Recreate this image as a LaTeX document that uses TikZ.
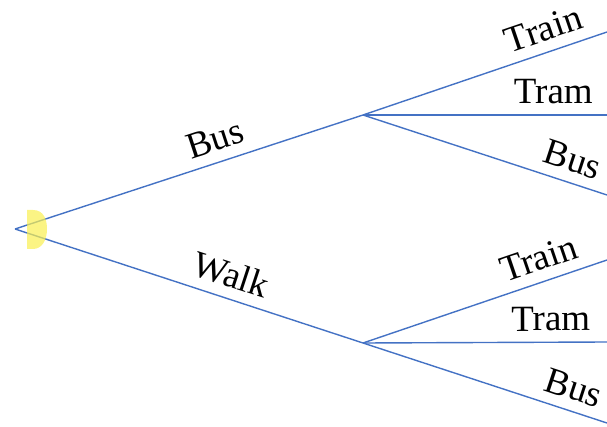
\documentclass[tikz,border=0pt]{standalone}
\usepackage{fontspec}
\setmainfont{Liberation Serif}
\definecolor{branch}{RGB}{68,114,196}
\definecolor{hilite}{RGB}{250,240,80}
\tikzset{
  edge/.style={draw=branch, line width=1.4pt},
  lab/.style={sloped, anchor=south, inner xsep=0pt, inner ysep=11pt, outer sep=0pt,
              font=\fontsize{37}{44}\selectfont, text=black}
}
\begin{document}
\begin{tikzpicture}[x=1pt,y=-1pt]
\useasboundingbox (0,0) rectangle (607,427);
\coordinate (r) at (15,229);
\coordinate (u) at (363,115);
\coordinate (l) at (363,343);
\coordinate (u1) at (607,32);
\coordinate (u2) at (607,115);
\coordinate (u3) at (607,195);
\coordinate (l1) at (607,260);
\coordinate (l2) at (607,342);
\coordinate (l3) at (607,423);

\draw[edge] (r) -- node[lab, pos=0.595] (tbus) {Bus} (u);
\draw[edge] (r) -- node[lab, pos=0.60] (twalk) {Walk} (l);
\draw[edge] (u) -- node[lab, pos=0.77] (tutrain) {Train} (u1);
\draw[edge] (u) -- node[lab, pos=0.78] (tutram) {Tram} (u2);
\draw[edge] (u) -- node[lab, pos=0.83] (tubus) {Bus} (u3);
\draw[edge] (l) -- node[lab, pos=0.75] (tltrain) {Train} (l1);
\draw[edge] (l) -- node[lab, pos=0.77] (tltram) {Tram} (l2);
\draw[edge] (l) -- node[lab, pos=0.835] (tlbus) {Bus} (l3);

\fill[hilite, opacity=0.7] (27,210) -- (33,210) .. controls (44,210) and (47,220) .. (47,229)
  .. controls (47,240) and (42,249) .. (33,249) -- (27,249) -- cycle;
\end{tikzpicture}
\end{document}
